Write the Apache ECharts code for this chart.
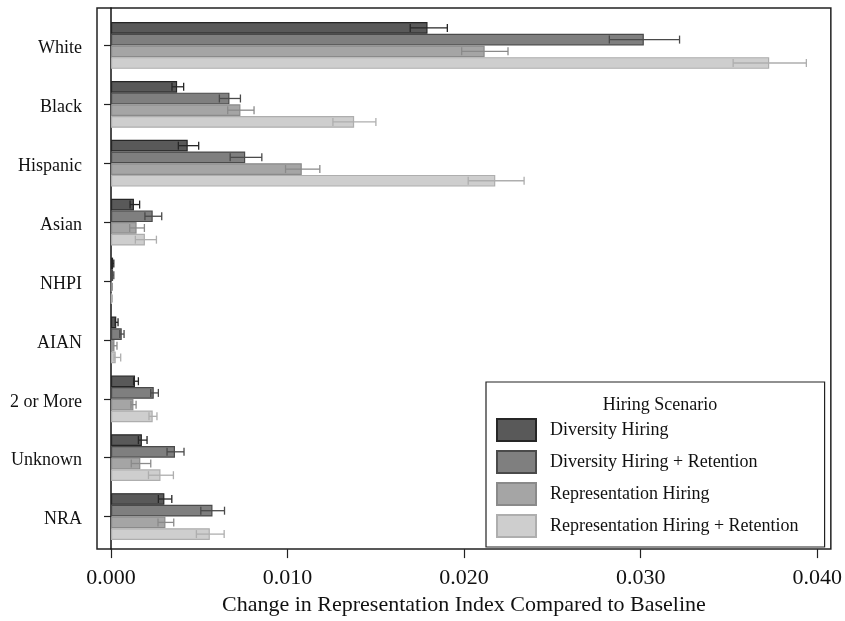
<!DOCTYPE html>
<html>
<head>
<meta charset="utf-8">
<script src="https://cdn.jsdelivr.net/npm/echarts@6/dist/echarts.min.js"></script>
<style>
html,body{margin:0;padding:0;background:#fff;}
#chart{width:845px;height:621px;}
</style>
</head>
<body>
<div id="chart"></div>
<script>
const categories = ['White','Black','Hispanic','Asian','NHPI','AIAN','2 or More','Unknown','NRA'];
const seriesNames = ['Diversity Hiring','Diversity Hiring + Retention','Representation Hiring','Representation Hiring + Retention'];
const xTicks = [0, 0.01, 0.02, 0.03, 0.04];

const dh   = [0.01790, 0.00374, 0.00434, 0.00130, 0.00012, 0.00030, 0.00136, 0.00175, 0.00302];
const dhLo = [0.01692, 0.00345, 0.00381, 0.00108, 0.00008, 0.00024, 0.00128, 0.00155, 0.00268];
const dhHi = [0.01902, 0.00411, 0.00496, 0.00162, 0.00016, 0.00040, 0.00155, 0.00204, 0.00344];

const dhr   = [0.03013, 0.00670, 0.00759, 0.00236, 0.00012, 0.00061, 0.00242, 0.00362, 0.00574];
const dhrLo = [0.02818, 0.00613, 0.00674, 0.00192, 0.00008, 0.00050, 0.00225, 0.00317, 0.00508];
const dhrHi = [0.03215, 0.00732, 0.00853, 0.00287, 0.00016, 0.00074, 0.00268, 0.00413, 0.00642];

const rh   = [0.02113, 0.00732, 0.01079, 0.00145, 0.00005, 0.00020, 0.00127, 0.00166, 0.00308];
const rhLo = [0.01983, 0.00660, 0.00987, 0.00106, 0.00003, 0.00012, 0.00113, 0.00115, 0.00266];
const rhHi = [0.02245, 0.00809, 0.01181, 0.00189, 0.00007, 0.00034, 0.00142, 0.00225, 0.00355];

const rhr   = [0.03722, 0.01375, 0.02173, 0.00192, 0.00005, 0.00027, 0.00236, 0.00280, 0.00559];
const rhrLo = [0.03518, 0.01255, 0.02020, 0.00138, 0.00003, 0.00017, 0.00215, 0.00212, 0.00483];
const rhrHi = [0.03932, 0.01498, 0.02336, 0.00257, 0.00007, 0.00055, 0.00260, 0.00353, 0.00640];

const values = [dh, dhr, rh, rhr];
const lows = [dhLo, dhrLo, rhLo, rhrLo];
const highs = [dhHi, dhrHi, rhHi, rhrHi];

const fills = ['#595959', '#7f7f7f', '#a5a5a5', '#cecece'];
const borders = ['#262626', '#4a4a4a', '#8a8a8a', '#aeaeae'];
const FONT = "'Liberation Serif', 'Times New Roman', serif";
const BAR_W = 11.7;
const X_MIN = -0.00079, X_MAX = 0.04077;

const chart = echarts.init(document.getElementById('chart'), null, {renderer: 'canvas'});

const series = [];
values.forEach((vals, i) => {
  series.push({
    name: seriesNames[i],
    type: 'bar',
    xAxisIndex: 0, yAxisIndex: 0,
    data: vals,
    barWidth: BAR_W,
    barGap: '0%',
    itemStyle: {color: fills[i], borderColor: borders[i], borderWidth: 1.2},
    z: 2
  });
});
values.forEach((vals, i) => {
  series.push({
    name: seriesNames[i] + ' CI',
    type: 'custom',
    xAxisIndex: 0, yAxisIndex: 0,
    z: 5,
    silent: true,
    encode: {x: [0, 1], y: 2},
    data: categories.map((c, j) => [lows[i][j], highs[i][j], j]),
    renderItem: function (params, api) {
      const lo = api.coord([api.value(0), api.value(2)]);
      const hi = api.coord([api.value(1), api.value(2)]);
      const off = (i - 1.5) * BAR_W;
      const y = lo[1] + off;
      const cap = 4;
      const st = {stroke: borders[i], lineWidth: 1.3};
      return {
        type: 'group',
        children: [
          {type: 'line', shape: {x1: lo[0], y1: y, x2: hi[0], y2: y}, style: st},
          {type: 'line', shape: {x1: lo[0], y1: y - cap, x2: lo[0], y2: y + cap}, style: st},
          {type: 'line', shape: {x1: hi[0], y1: y - cap, x2: hi[0], y2: y + cap}, style: st}
        ]
      };
    }
  });
});

const option = {
  animation: false,
  backgroundColor: '#fff',
  title: {
    text: 'Hiring Scenario',
    left: 655, top: 391,
    textAlign: 'center',
    textStyle: {fontFamily: FONT, fontSize: 18, fontWeight: 'normal', color: '#111'},
    z: 10
  },
  legend: {
    data: seriesNames,
    orient: 'vertical',
    left: 486, top: 382,
    padding: [36, 26, 9, 10],
    itemWidth: 39, itemHeight: 22, itemGap: 8,
    icon: 'rect',
    backgroundColor: '#fff',
    borderColor: '#222', borderWidth: 1.2,
    textStyle: {fontFamily: FONT, fontSize: 18, lineHeight: 20, color: '#111', padding: [0, 0, 0, 9]},
    selectedMode: false,
    z: 8
  },
  grid: [
    {left: 97, right: 13, top: 16, bottom: 75},
    {left: 97, right: 13, top: 8, bottom: 67, show: true, borderColor: '#222', borderWidth: 1.5, backgroundColor: 'transparent'}
  ],
  xAxis: [
    {gridIndex: 0, type: 'value', min: X_MIN, max: X_MAX, show: false},
    {gridIndex: 1, type: 'value', min: X_MIN, max: X_MAX,
     axisLine: {show: false},
     splitLine: {show: false},
     axisTick: {show: true, length: 9, lineStyle: {color: '#222', width: 1.2}, customValues: xTicks},
     axisLabel: {show: true, customValues: xTicks, margin: 18, formatter: v => v.toFixed(3),
                 fontFamily: FONT, fontSize: 22, color: '#111'},
     name: 'Change in Representation Index Compared to Baseline',
     nameLocation: 'middle', nameGap: 40,
     nameTextStyle: {fontFamily: FONT, fontSize: 22, color: '#111'}
    }
  ],
  yAxis: [
    {gridIndex: 0, type: 'category', data: categories, inverse: true,
     axisLine: {show: false},
     axisTick: {show: true, alignWithLabel: true, length: 7, lineStyle: {color: '#222', width: 1.2}},
     axisLabel: {margin: 15, formatter: v => '{a|' + v + '}',
                 rich: {a: {fontFamily: FONT, fontSize: 18, color: '#111', lineHeight: 20, padding: [6, 0, 0, 0]}}},
     splitLine: {show: false}
    },
    {gridIndex: 1, type: 'value', min: 0, max: 1,
     axisLine: {show: true, onZero: true, lineStyle: {color: '#111', width: 1.5}},
     axisTick: {show: false}, axisLabel: {show: false}, splitLine: {show: false}
    }
  ],
  series: series
};
chart.setOption(option);
</script>
</body>
</html>
